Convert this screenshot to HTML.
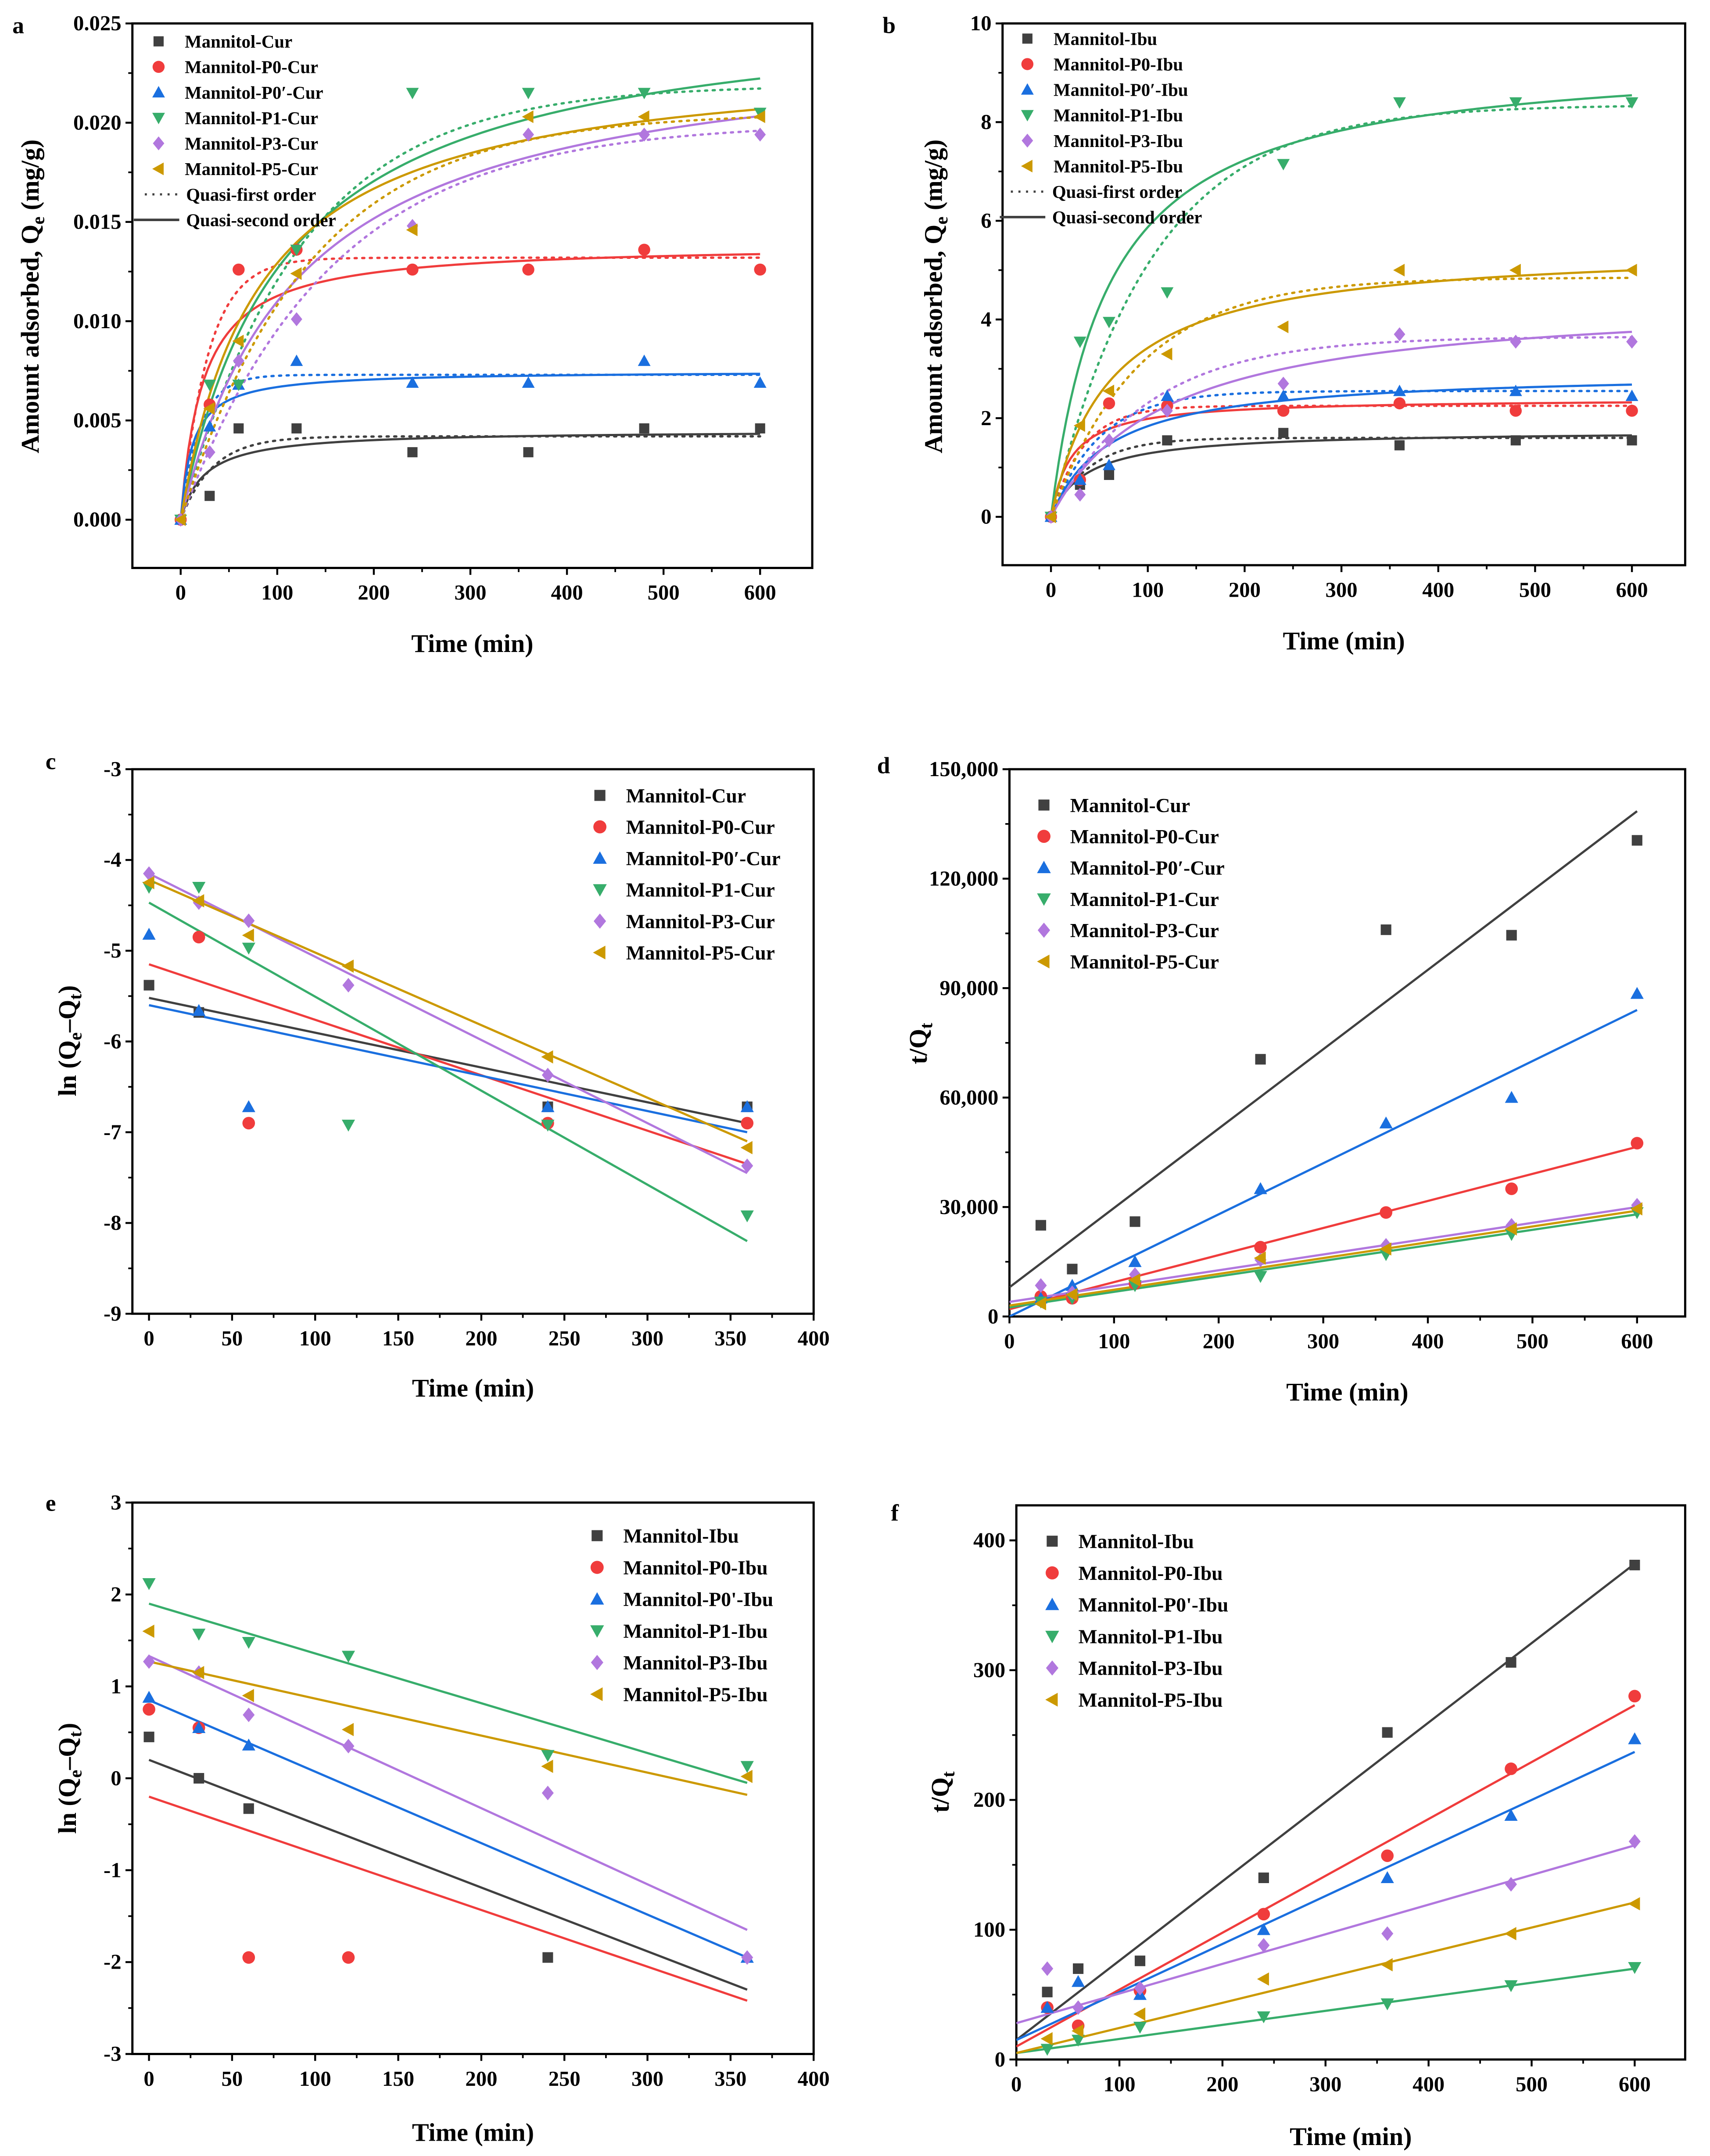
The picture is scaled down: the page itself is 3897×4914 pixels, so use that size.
<!DOCTYPE html>
<html><head><meta charset="utf-8"><style>
html,body{margin:0;padding:0;background:#fff;}
svg{display:block;}
text{font-family:"Liberation Serif",serif;font-weight:bold;fill:#000;}
</style></head><body>
<svg id="fig" xmlns="http://www.w3.org/2000/svg" width="3897" height="4914" viewBox="0 0 1240 1564" preserveAspectRatio="none"></svg>
<script>
// ---- shared data ----
const timesAB = [0, 30, 60, 120, 240, 360, 480, 600];
const timesCE = [0, 30, 60, 120, 240, 360];
const timesDF = [30, 60, 120, 240, 360, 480, 600];
const seriesColors = ['#404040', '#f03c3c', '#1a6fdf', '#37ad6b', '#b177de', '#cc9900'];
const seriesMarkers = ['square', 'circle', 'triangle', 'down', 'diamond', 'left'];
const curNames = ['Mannitol-Cur', 'Mannitol-P0-Cur', 'Mannitol-P0\u2032-Cur', 'Mannitol-P1-Cur', 'Mannitol-P3-Cur', 'Mannitol-P5-Cur'];
const curNames2 = ['Mannitol-Cur', 'Mannitol-P0-Cur', 'Mannitol-P0\u2032-Cur', 'Mannitol-P1-Cur', 'Mannitol-P3-Cur', 'Mannitol-P5-Cur'];
const ibuNames = ['Mannitol-Ibu', 'Mannitol-P0-Ibu', 'Mannitol-P0\u2032-Ibu', 'Mannitol-P1-Ibu', 'Mannitol-P3-Ibu', 'Mannitol-P5-Ibu'];
const ibuNames2 = ['Mannitol-Ibu', 'Mannitol-P0-Ibu', "Mannitol-P0'-Ibu", 'Mannitol-P1-Ibu', 'Mannitol-P3-Ibu', 'Mannitol-P5-Ibu'];

// panel a
const aValues = [
 [0, .0012, .0046, .0046, .0034, .0034, .0046, .0046],
 [0, .0058, .0126, .0136, .0126, .0126, .0136, .0126],
 [0, .0047, .0068, .0080, .0069, .0069, .0080, .0069],
 [0, .0068, .0068, .0136, .0215, .0215, .0215, .0205],
 [0, .0034, .0080, .0101, .0148, .0194, .0194, .0194],
 [0, .0056, .0090, .0124, .0146, .0203, .0203, .0203]];
const aPfoQe = [.0042, .0132, .0073, .0219, .0200, .0205];
const aPfoK = [.03, .035, .05, .008, .0065, .0075];
const aPsoQe = [.0045, .0139, .0075, .0262, .0245, .0235];
const aPsoK = [9.1, 3.08, 10.9, .356, .332, .52];
const aYTicks = [0, .005, .010, .015, .020, .025];
// panel b
const bValues = [
 [0, .65, .85, 1.55, 1.7, 1.45, 1.55, 1.55],
 [0, .75, 2.3, 2.25, 2.15, 2.3, 2.15, 2.15],
 [0, .75, 1.05, 2.45, 2.45, 2.55, 2.55, 2.45],
 [0, 3.55, 3.95, 4.55, 7.15, 8.4, 8.4, 8.4],
 [0, .45, 1.55, 2.15, 2.7, 3.7, 3.55, 3.55],
 [0, 1.85, 2.55, 3.3, 3.85, 5.0, 5.0, 5.0]];
const bPfoQe = [1.6, 2.25, 2.55, 8.35, 3.65, 4.85];
const bPfoK = [.025, .03, .02, .0095, .01, .011];
const bPsoQe = [1.75, 2.4, 2.95, 9.4, 4.5, 5.5];
const bPsoK = [.0157, .02, .0056, .00177, .00185, .003];
const bYTicks = [0, 2, 4, 6, 8, 10];
// panel c
const cValues = [
 [-5.38, -5.68, null, null, -6.72, -6.72],
 [null, -4.85, -6.9, null, -6.9, -6.9],
 [-4.82, -5.66, -6.72, null, -6.72, -6.72],
 [-4.3, -4.3, -4.97, -6.92, -6.92, -7.92],
 [-4.15, -4.47, -4.67, -5.38, -6.37, -7.37],
 [-4.25, -4.45, -4.83, -5.17, -6.17, -7.17]];
const cLineStart = [-5.52, -5.15, -5.6, -4.47, -4.15, -4.22];
const cLineEnd = [-6.9, -7.35, -7.0, -8.2, -7.45, -7.1];
const cYTicks = [-9, -8, -7, -6, -5, -4, -3];
// panel d
const dValues = [
 [25000, 13000, 26000, 70500, 106000, 104500, 130500],
 [5500, 5000, 9000, 19000, 28500, 35000, 47500],
 [5000, 8500, 15000, 35000, 53000, 60000, 88500],
 [4000, 5000, 8500, 11000, 17000, 22500, 28500],
 [8500, 6500, 11500, 15500, 19500, 25000, 30500],
 [3500, 6000, 10000, 16000, 18500, 24000, 29500]];
const dLineStart = [8000, 2000, 0, 2500, 4000, 3000];
const dLineEnd = [138500, 46500, 84000, 28000, 30000, 29000];
const dYTicks = [0, 30000, 60000, 90000, 120000, 150000];
const dYLabels = ['0', '30,000', '60,000', '90,000', '120,000', '150,000'];
// panel e
const eValues = [
 [0.45, 0.0, -0.33, null, -1.95, null],
 [0.75, 0.55, -1.95, -1.95, null, null],
 [0.88, 0.55, 0.36, null, null, -1.95],
 [2.12, 1.57, 1.48, 1.33, 0.25, 0.13],
 [1.27, 1.15, 0.69, 0.35, -0.16, -1.95],
 [1.6, 1.15, 0.9, 0.53, 0.13, 0.02]];
const eLineStart = [0.2, -0.2, 0.85, 1.9, 1.33, 1.27];
const eLineEnd = [-2.3, -2.42, -1.95, -0.05, -1.65, -0.18];
const eYTicks = [-3, -2, -1, 0, 1, 2, 3];
// panel f
const fValues = [
 [52, 70, 76, 140, 252, 306, 381],
 [40, 26, 53, 112, 157, 224, 280],
 [40, 60, 50, 100, 140, 188, 247],
 [8, 15, 25, 33, 43, 57, 71],
 [70, 40, 55, 88, 97, 135, 168],
 [16, 22, 35, 62, 73, 97, 120]];
const fLineStart = [15, 10, 15, 5, 28, 5];
const fLineEnd = [382, 273, 237, 70, 165, 121];
const fYTicks = [0, 100, 200, 300, 400];
const xTicks600 = [0, 100, 200, 300, 400, 500, 600];
const xTicks400 = [0, 50, 100, 150, 200, 250, 300, 350, 400];

const NS = 'http://www.w3.org/2000/svg';
const svg = document.getElementById('fig');
function mk(tag, attrs, parent) {
  const e = document.createElementNS(NS, tag);
  for (const k in attrs) e.setAttribute(k, attrs[k]);
  (parent || svg).appendChild(e);
  return e;
}
function scale(d0, d1, r0, r1) { return v => r0 + (v - d0) / (d1 - d0) * (r1 - r0); }

function marker(g, type, x, y, color, s) {
  let e;
  if (type === 'square') e = mk('rect', {x: x - s * .8, y: y - s * .8, width: s * 1.6, height: s * 1.6, fill: color}, g);
  else if (type === 'circle') e = mk('circle', {cx: x, cy: y, r: s * .95, fill: color}, g);
  else if (type === 'triangle') e = mk('polygon', {points: `${x},${y - s} ${x - s},${y + s * .8} ${x + s},${y + s * .8}`, fill: color}, g);
  else if (type === 'down') e = mk('polygon', {points: `${x},${y + s} ${x - s},${y - s * .8} ${x + s},${y - s * .8}`, fill: color}, g);
  else if (type === 'diamond') e = mk('polygon', {points: `${x},${y - s * 1.1} ${x + s * .9},${y} ${x},${y + s * 1.1} ${x - s * .9},${y}`, fill: color}, g);
  else e = mk('polygon', {points: `${x - s},${y} ${x + s * .8},${y - s} ${x + s * .8},${y + s}`, fill: color}, g);
  
  
  return e;
}

function panel(cfg) {
  const g = mk('g', {});
  
  
  const X = scale(cfg.xd[0], cfg.xd[1], cfg.L, cfg.R);
  const Y = scale(cfg.yd[0], cfg.yd[1], cfg.B, cfg.T);
  const fr = mk('rect', {x: cfg.L, y: cfg.T, width: cfg.R - cfg.L, height: cfg.B - cfg.T, fill: 'none', stroke: '#000', 'stroke-width': 1.6}, g);
  
  
  const xt = mk('g', {}, g);
  
  
  cfg.xt.forEach((v, i) => {
    mk('line', {x1: X(v), x2: X(v), y1: cfg.B, y2: cfg.B + 5, stroke: '#000', 'stroke-width': 1.4}, xt);
    if (i < cfg.xt.length - 1) { const m = (v + cfg.xt[i + 1]) / 2; mk('line', {x1: X(m), x2: X(m), y1: cfg.B, y2: cfg.B + 3, stroke: '#000', 'stroke-width': 1.2}, xt); }
    const t = mk('text', {x: X(v), y: cfg.B + 23, 'text-anchor': 'middle', 'font-size': 15.5}, xt);
    t.textContent = v;
    
    
  });
  const yt = mk('g', {}, g);
  
  
  cfg.yt.forEach((v, i) => {
    mk('line', {x1: cfg.L - 5, x2: cfg.L, y1: Y(v), y2: Y(v), stroke: '#000', 'stroke-width': 1.4}, yt);
    if (i < cfg.yt.length - 1) { const m = (v + cfg.yt[i + 1]) / 2; mk('line', {x1: cfg.L - 3, x2: cfg.L, y1: Y(m), y2: Y(m), stroke: '#000', 'stroke-width': 1.2}, yt); }
    const t = mk('text', {x: cfg.L - 8, y: Y(v) + 5, 'text-anchor': 'end', 'font-size': 15.5}, yt);
    t.textContent = cfg.yl ? cfg.yl[i] : cfg.yfmt(v);
    
    
  });
  const xtitle = mk('text', {x: (cfg.L + cfg.R) / 2, y: cfg.xlabY, 'text-anchor': 'middle', 'font-size': 18.5}, g);
  xtitle.textContent = 'Time (min)';
  
  
  const ytitle = mk('text', {transform: `translate(${cfg.ylabX},${cfg.ylabY}) rotate(-90)`, 'text-anchor': 'middle', 'font-size': 18.5}, g);
  ytitle.innerHTML = cfg.ytitle;
  
  
  const lt = mk('text', {x: cfg.letter[0], y: cfg.letter[1], 'font-size': 17}, g);
  lt.textContent = cfg.letterText;
  
  
  const cid = 'clip-' + cfg.name;
  const cp = mk('clipPath', {id: cid}, g);
  mk('rect', {x: cfg.L, y: cfg.T, width: cfg.R - cfg.L, height: cfg.B - cfg.T}, cp);
  const plot = mk('g', {'clip-path': `url(#${cid})`}, g);
  
  
  return {g, plot, X, Y};
}

function legend(g, names, x, y0, dy, fs, ms) {
  const lg = mk('g', {}, g);
  
  
  names.forEach((n, i) => {
    const e = mk('g', {}, lg);
    
    
    marker(e, seriesMarkers[i], x, y0 + i * dy, seriesColors[i], ms);
    const t = mk('text', {x: x + 19, y: y0 + i * dy + fs * .35, 'font-size': fs}, e);
    t.textContent = n;
  });
  return lg;
}

function pts(p, times, vals, ms) {
  vals.forEach((s, si) => {
    const sg = mk('g', {}, p.plot);
    
    
    s.forEach((v, i) => { if (v !== null) marker(sg, seriesMarkers[si], p.X(times[i]), p.Y(v), seriesColors[si], ms); });
  });
}
function lines(p, x0, x1, starts, ends) {
  starts.forEach((s, i) => {
    const l = mk('line', {x1: p.X(x0), y1: p.Y(s), x2: p.X(x1), y2: p.Y(ends[i]), stroke: seriesColors[i], 'stroke-width': 1.6}, p.plot);
    
    
  });
}
function fits(p, pfoQe, pfoK, psoQe, psoK) {
  for (let i = 0; i < pfoQe.length; i++) {
    let d1 = '', d2 = '';
    for (let t = 0; t <= 600; t += 4) {
      const q1 = pfoQe[i] * (1 - Math.exp(-pfoK[i] * t));
      const q2 = psoQe[i] * psoQe[i] * psoK[i] * t / (1 + psoQe[i] * psoK[i] * t);
      d1 += (t ? 'L' : 'M') + p.X(t).toFixed(2) + ',' + p.Y(q1).toFixed(2);
      d2 += (t ? 'L' : 'M') + p.X(t).toFixed(2) + ',' + p.Y(q2).toFixed(2);
    }
    const a = mk('path', {d: d1, fill: 'none', stroke: seriesColors[i], 'stroke-width': 1.7, 'stroke-dasharray': '1.5,4', 'stroke-linecap': 'round'}, p.plot);
    
    
    const b = mk('path', {d: d2, fill: 'none', stroke: seriesColors[i], 'stroke-width': 1.6}, p.plot);
    
    
  }
}
function fitLegend(g, x, y0, dy, fs) {
  const e1 = mk('g', {}, g);
  
  
  mk('line', {x1: x - 30, x2: x - 5, y1: y0, y2: y0, stroke: '#404040', 'stroke-width': 1.6, 'stroke-dasharray': '1.5,4'}, e1);
  const t1 = mk('text', {x: x, y: y0 + fs * .35, 'font-size': fs}, e1); t1.textContent = 'Quasi-first order';
  const e2 = mk('g', {}, g);
  
  
  mk('line', {x1: x - 38, x2: x - 5, y1: y0 + dy, y2: y0 + dy, stroke: '#404040', 'stroke-width': 1.8}, e2);
  const t2 = mk('text', {x: x, y: y0 + dy + fs * .35, 'font-size': fs}, e2); t2.textContent = 'Quasi-second order';
}
const QeTitle = 'Amount adsorbed, Q<tspan font-size="13" dy="4">e</tspan><tspan dy="-4"> (mg/g)</tspan>';
const lnTitle = 'ln (Q<tspan font-size="13" dy="4">e</tspan><tspan dy="-4">\u2013Q</tspan><tspan font-size="13" dy="4">t</tspan><tspan dy="-4">)</tspan>';
const tqTitle = 't/Q<tspan font-size="13" dy="4">t</tspan>';

let p = panel({name: 'panel-a', L: 96, R: 589, T: 17, B: 412, xd: [-50, 654], yd: [-0.00243, 0.025], xt: xTicks600, yt: aYTicks, yfmt: v => v.toFixed(3), xlabY: 473, ylabX: 28, ylabY: 215, ytitle: QeTitle, letter: [9, 24], letterText: 'a'});
fits(p, aPfoQe, aPfoK, aPsoQe, aPsoK); pts(p, timesAB, aValues, 4.6);
legend(p.g, curNames, 115, 30, 18.5, 13, 4.6); fitLegend(p.g, 135, 141, 18.5, 13);
p = panel({name: 'panel-b', L: 727, R: 1222, T: 17, B: 410, xd: [-50, 655], yd: [-0.98, 10], xt: xTicks600, yt: bYTicks, yfmt: v => v, xlabY: 471, ylabX: 683, ylabY: 215, ytitle: QeTitle, letter: [640, 24], letterText: 'b'});
fits(p, bPfoQe, bPfoK, bPsoQe, bPsoK); pts(p, timesAB, bValues, 4.6);
legend(p.g, ibuNames, 745, 28, 18.5, 13, 4.6); fitLegend(p.g, 763, 139, 18.5, 13);
p = panel({name: 'panel-c', L: 96, R: 590, T: 558, B: 953, xd: [-10, 400], yd: [-9, -3], xt: xTicks400, yt: cYTicks, yfmt: v => v, xlabY: 1013, ylabX: 55, ylabY: 755, ytitle: lnTitle, letter: [33, 558], letterText: 'c'});
lines(p, 0, 360, cLineStart, cLineEnd); pts(p, timesCE, cValues, 4.8);
legend(p.g, curNames2, 435, 577, 22.8, 14.5, 5);
p = panel({name: 'panel-d', L: 732, R: 1222, T: 558, B: 955, xd: [0, 646], yd: [0, 150000], xt: xTicks600, yt: dYTicks, yl: dYLabels, yfmt: v => v, xlabY: 1016, ylabX: 672, ylabY: 757, ytitle: tqTitle, letter: [636, 561], letterText: 'd'});
lines(p, 0, 600, dLineStart, dLineEnd); pts(p, timesDF, dValues, 4.8);
legend(p.g, curNames2, 757, 584, 22.7, 14.5, 5);
p = panel({name: 'panel-e', L: 96, R: 590, T: 1090, B: 1490, xd: [-10, 400], yd: [-3, 3], xt: xTicks400, yt: eYTicks, yfmt: v => v, xlabY: 1553, ylabX: 55, ylabY: 1290, ytitle: lnTitle, letter: [33, 1096], letterText: 'e'});
lines(p, 0, 360, eLineStart, eLineEnd); pts(p, timesCE, eValues, 4.8);
legend(p.g, ibuNames2, 433, 1114, 23, 14.5, 5);
p = panel({name: 'panel-f', L: 737, R: 1222, T: 1092, B: 1494, xd: [0, 649], yd: [0, 427], xt: xTicks600, yt: fYTicks, yfmt: v => v, xlabY: 1556, ylabX: 688, ylabY: 1300, ytitle: tqTitle, letter: [646, 1103], letterText: 'f'});
lines(p, 0, 600, fLineStart, fLineEnd); pts(p, timesDF, fValues, 4.8);
legend(p.g, ibuNames2, 763, 1118, 23, 14.5, 5);
</script>
</body></html>
